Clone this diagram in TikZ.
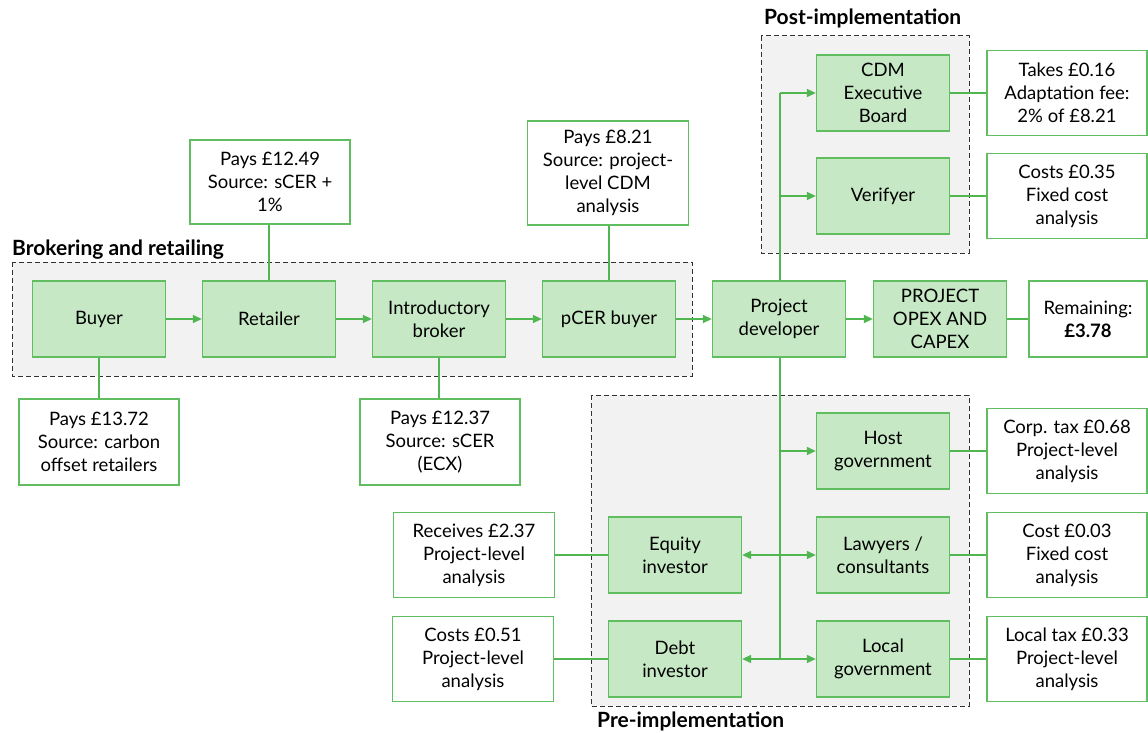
\documentclass[tikz,border=0pt]{standalone}
\usepackage{fontspec}
\setmainfont{Lato}
\usetikzlibrary{arrows.meta}
\definecolor{gfill}{RGB}{198,232,196}
\definecolor{gline}{RGB}{96,190,96}
\definecolor{gconn}{RGB}{80,182,80}
\definecolor{grpfill}{RGB}{242,242,242}
\definecolor{grpline}{RGB}{50,50,50}
\begin{document}
\begin{tikzpicture}[x=1pt,y=-1pt,
  every node/.style={font=\fontsize{18.5}{23}\selectfont},
  actor/.style={draw=gline,line width=1.3pt,fill=gfill,minimum width=133pt,minimum height=76pt,inner sep=0pt,align=center},
  info/.style={draw=gline,line width=1.3pt,fill=white,minimum width=160pt,minimum height=85pt,inner sep=0pt,align=center},
  grp/.style={draw=grpline,dash pattern=on 5pt off 3pt,line width=1pt,fill=grpfill},
  grplabel/.style={font=\fontsize{21}{24}\selectfont\bfseries,inner sep=0pt},
  conn/.style={draw=gconn,line width=1.4pt},
  arr/.style={conn,-{Triangle[length=9pt,width=8pt]}}
]
\useasboundingbox (0,0) rectangle (1148,733);
% groups
\draw[grp] (12,262) rectangle (692,376);
\draw[grp] (761,36) rectangle (969,253);
\draw[grp] (591,395) rectangle (969,706);
\node[grplabel,anchor=base west] (lbroker) at (12,255) {Brokering and retailing};
\node[grplabel,anchor=base west] (lpost) at (764,25) {Post-implementation};
\node[grplabel,anchor=base west] (lpre) at (597,727) {Pre-implementation};
% main row
\node[actor] (buyer) at (99,319) {Buyer};
\node[actor] (retailer) at (269,319) {Retailer};
\node[actor] (broker) at (439,319) {Introductory\\broker};
\node[actor] (pcer) at (609,319) {pCER buyer};
\node[actor] (pd) at (779,319) {Project\\developer};
\node[actor] (opex) at (940,319) {PROJECT\\OPEX AND\\CAPEX};
\node[info,minimum width=118pt,minimum height=76pt] (remain) at (1088,319) {Remaining:\\\textbf{£3.78}};
% info boxes brokering
\node[info,minimum height=84pt] (i1249) at (270,182) {Pays £12.49\\Source: sCER +\\1\%};
\node[info,minimum height=86pt] (i1372) at (99,442) {Pays £13.72\\Source: carbon\\offset retailers};
\node[info,minimum height=86pt] (i1237) at (440,442) {Pays £12.37\\Source: sCER\\(ECX)};
\node[info,minimum width=161pt,minimum height=104pt] (i821) at (608,173) {Pays £8.21\\Source: project-\\level CDM\\analysis};
% post-implementation
\node[actor] (cdm) at (883,93) {CDM\\Executive\\Board};
\node[actor] (ver) at (883,196) {Verifyer};
\node[info,minimum height=85pt] (itakes) at (1067,93) {Takes £0.16\\Adaptation fee:\\2\% of £8.21};
\node[info,minimum height=85pt] (i035) at (1067,196) {Costs £0.35\\Fixed cost\\analysis};
% pre-implementation
\node[actor] (host) at (883,451) {Host\\government};
\node[actor] (law) at (883,555) {Lawyers /\\consultants};
\node[actor] (local) at (883,659) {Local\\government};
\node[actor] (equity) at (675,555) {Equity\\investor};
\node[actor] (debt) at (675,659) {Debt\\investor};
\node[info] (i068) at (1067,451) {Corp. tax £0.68\\Project-level\\analysis};
\node[info] (i003) at (1067,555) {Cost £0.03\\Fixed cost\\analysis};
\node[info] (i033) at (1067,659) {Local tax £0.33\\Project-level\\analysis};
\node[info,minimum width=161pt] (i237) at (474,555) {Receives £2.37\\Project-level\\analysis};
\node[info,minimum width=161pt] (i051) at (473,659) {Costs £0.51\\Project-level\\analysis};
% junctions
\coordinate (jtop) at (780,93);
\coordinate (jver) at (780,196);
\coordinate (jhost) at (780,451);
\coordinate (jlaw) at (780,555);
\coordinate (jlocal) at (780,659);
% plain links
\draw[conn] (retailer.north) -- (retailer.north |- i1249.south);
\draw[conn] (buyer.south) -- (buyer.south |- i1372.north);
\draw[conn] (broker.south) -- (broker.south |- i1237.north);
\draw[conn] (pcer.north) -- (pcer.north |- i821.south);
\draw[conn] (cdm.east) -- (itakes.west);
\draw[conn] (ver.east) -- (i035.west);
\draw[conn] (opex.east) -- (remain.west);
\draw[conn] (host.east) -- (i068.west);
\draw[conn] (law.east) -- (i003.west);
\draw[conn] (local.east) -- (i033.west);
\draw[conn] (equity.west) -- (i237.east);
\draw[conn] (debt.west) -- (i051.east);
% arrows
\draw[arr] (buyer) -- (retailer);
\draw[arr] (retailer) -- (broker);
\draw[arr] (broker) -- (pcer);
\draw[arr] (pcer) -- (pd);
\draw[arr] (pd) -- (opex);
\draw[conn] (pd.north -| jtop) -- (jtop);
\draw[arr] (jtop) -- (cdm.west);
\draw[arr] (jver) -- (ver.west);
\draw[conn] (pd.south -| jtop) -- (jlocal);
\draw[arr] (jhost) -- (host.west);
\draw[arr] (jlaw) -- (law.west);
\draw[arr] (jlaw) -- (equity.east);
\draw[arr] (jlocal) -- (local.west);
\draw[arr] (jlocal) -- (debt.east);
\end{tikzpicture}
\end{document}
